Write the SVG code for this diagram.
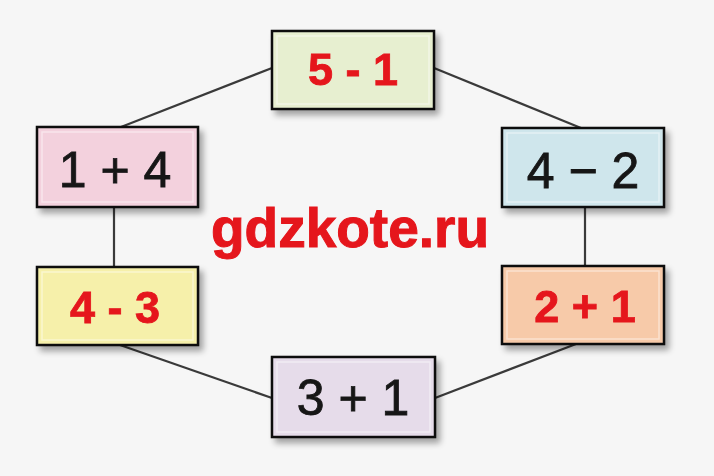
<svg xmlns="http://www.w3.org/2000/svg" width="714" height="476" viewBox="0 0 714 476">
<defs>
<filter id="sh" x="-10%" y="-10%" width="130%" height="140%">
<feGaussianBlur in="SourceAlpha" stdDeviation="3"/>
<feOffset dx="4" dy="5" result="b"/>
<feComponentTransfer><feFuncA type="linear" slope="0.35"/></feComponentTransfer>
<feMerge><feMergeNode/><feMergeNode in="SourceGraphic"/></feMerge>
</filter>
<style>
.box{stroke:#111;stroke-width:2.5}
.inner{fill:none;stroke:#fff;stroke-opacity:0.45;stroke-width:1.5}
.red{font-family:"Liberation Sans",Arial,sans-serif;font-weight:bold;font-size:45px;fill:#e5161c;stroke:#e5161c;stroke-width:0.8;text-anchor:middle}
.blk{font-family:"Liberation Sans",Arial,sans-serif;font-size:50px;fill:#161616;stroke:#161616;stroke-width:0.8;text-anchor:middle}
.ln{stroke:#3a3a3a;stroke-width:2.2;fill:none}
</style>
</defs>
<rect width="714" height="476" fill="#f6f6f6"/>
<g id="connectors">
<line class="ln" x1="272" y1="68" x2="121" y2="127"/>
<line class="ln" x1="434" y1="68" x2="581" y2="128"/>
<line class="ln" x1="114" y1="207" x2="114" y2="267"/>
<line class="ln" x1="585" y1="207" x2="585" y2="266"/>
<line class="ln" x1="120" y1="345" x2="272" y2="398"/>
<line class="ln" x1="576" y1="344" x2="435" y2="398"/>
</g>
<g id="n51" filter="url(#sh)">
<rect class="box" x="272" y="31" width="162" height="78" fill="#e7efd0"/>
<rect class="inner" x="277" y="36" width="152" height="68"/>
<text class="red" x="353" y="85" xml:space="preserve">5 - 1</text>
</g>
<g id="n14" filter="url(#sh)">
<rect class="box" x="37" y="127" width="161" height="80" fill="#f3d1dd"/>
<rect class="inner" x="42" y="132" width="151" height="70"/>
<text class="blk" x="115" y="187" xml:space="preserve">1 + 4</text>
</g>
<g id="n42" filter="url(#sh)">
<rect class="box" x="502" y="128" width="162" height="79" fill="#cfe6ec"/>
<rect class="inner" x="507" y="133" width="152" height="69"/>
<text class="blk" x="583" y="188" xml:space="preserve">4 − 2</text>
</g>
<g id="n43" filter="url(#sh)">
<rect class="box" x="37" y="267" width="161" height="78" fill="#f6f0aa"/>
<rect class="inner" x="42" y="272" width="151" height="68"/>
<text class="red" x="115" y="323" xml:space="preserve">4 - 3</text>
</g>
<g id="n21" filter="url(#sh)">
<rect class="box" x="502" y="266" width="162" height="78" fill="#f7caa9"/>
<rect class="inner" x="507" y="271" width="152" height="68"/>
<text class="red" x="585" y="322" xml:space="preserve">2 + 1</text>
</g>
<g id="n31" filter="url(#sh)">
<rect class="box" x="272" y="357" width="163" height="80" fill="#e6dcea"/>
<rect class="inner" x="277" y="362" width="153" height="70"/>
<text class="blk" x="353" y="415" xml:space="preserve">3 + 1</text>
</g>
<text x="350" y="247" font-family="'Liberation Sans',Arial,sans-serif" font-weight="bold" font-size="55" fill="#e5161c" stroke="#e5161c" stroke-width="1" text-anchor="middle">gdzkote.ru</text>
</svg>
